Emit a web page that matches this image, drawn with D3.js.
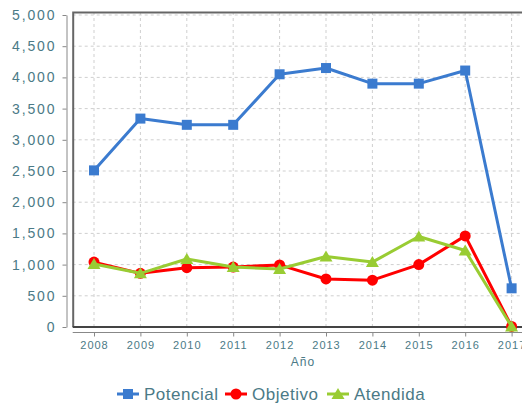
<!DOCTYPE html>
<html>
<head>
<meta charset="utf-8">
<script src="https://cdn.jsdelivr.net/npm/d3@7"></script>
<style>
  body { margin: 0; background: #fff; overflow: hidden; }
  svg { display: block; font-family: "Liberation Sans", Arial, sans-serif; }
</style>
</head>
<body>
<div id="chart"></div>
<script>
// data
var years = ["2008", "2009", "2010", "2011", "2012", "2013", "2014", "2015", "2016", "2017"];
var potencial = [2510, 3340, 3240, 3240, 4050, 4150, 3900, 3900, 4110, 620];
var objetivo = [1040, 860, 950, 960, 995, 770, 750, 1000, 1460, 10];
var atendida = [1010, 860, 1090, 960, 930, 1130, 1040, 1450, 1225, 10];
var yTicks = [0, 500, 1000, 1500, 2000, 2500, 3000, 3500, 4000, 4500, 5000];

var series = [
    {name: "Potencial", values: potencial, color: "#3b7bcf", shape: "square"},
    {name: "Objetivo", values: objetivo, color: "#ff0000", shape: "circle"},
    {name: "Atendida", values: atendida, color: "#99cc33", shape: "triangle"}
];

var width = 522, height = 404;
var textColor = "#4b7a86";
var plot = {left: 72.7, top: 12, bottom: 327};

var svg = d3.select("#chart").append("svg")
    .attr("width", width)
    .attr("height", height);

// point positions: 2008 at ~94, step ~46.4
var x = d3.scalePoint().domain(years).range([70.8, 534.8]).padding(0.5);
var y = d3.scaleLinear().domain([0, 5000]).range([plot.bottom, 15]);

// dashed grid
var grid = svg.append("g");
grid.selectAll(".hgrid").data(yTicks.slice(1)).enter().append("line")
    .attr("x1", plot.left).attr("x2", width)
    .attr("y1", function(d) { return y(d); }).attr("y2", function(d) { return y(d); })
    .attr("stroke", "#cfcfcf").attr("stroke-dasharray", "3,3");
grid.selectAll(".vgrid").data(years).enter().append("line")
    .attr("x1", function(d) { return x(d); }).attr("x2", function(d) { return x(d); })
    .attr("y1", plot.top).attr("y2", plot.bottom)
    .attr("stroke", "#cfcfcf").attr("stroke-dasharray", "3,3");

// frame
svg.append("path")
    .attr("d", "M" + width + "," + (plot.top + 0.5) + "H" + (plot.left + 0.5) + "V" + plot.bottom)
    .attr("fill", "none").attr("stroke", "#666").attr("stroke-width", 2);
svg.append("line")
    .attr("x1", plot.left).attr("x2", width)
    .attr("y1", plot.bottom).attr("y2", plot.bottom)
    .attr("stroke", "#444").attr("stroke-width", 2);

// y axis, offset to the left
var yAxis = svg.append("g")
    .attr("transform", "translate(66.5,0)")
    .call(d3.axisLeft(y).tickValues(yTicks).tickSize(4).tickSizeOuter(0).tickPadding(6)
        .tickFormat(d3.format(",")));
yAxis.selectAll("line, path").attr("stroke", "#888");
yAxis.selectAll("text").attr("fill", textColor)
    .style("font-size", "14px").style("letter-spacing", "1.9px");

// x axis, offset below
var xAxis = svg.append("g")
    .attr("transform", "translate(0,332.5)")
    .call(d3.axisBottom(x).tickSize(4).tickSizeOuter(0).tickPadding(5));
xAxis.select(".domain").attr("d", "M" + plot.left + ",0H" + width);
xAxis.selectAll("line, path").attr("stroke", "#888");
xAxis.selectAll("text").attr("fill", textColor)
    .style("font-size", "11px").style("letter-spacing", "1px");

svg.append("text")
    .attr("x", 303).attr("y", 366)
    .attr("text-anchor", "middle")
    .attr("fill", textColor)
    .style("font-size", "12px").style("letter-spacing", "1px")
    .text("Año");

var line = d3.line()
    .x(function(d, i) { return x(years[i]); })
    .y(function(d) { return y(d); });

function marker(sel, shape, color) {
    if (shape === "square") {
        sel.append("rect").attr("x", -5).attr("y", -5).attr("width", 10).attr("height", 10).attr("fill", color);
    } else if (shape === "circle") {
        sel.append("circle").attr("r", 5.5).attr("fill", color);
    } else {
        sel.append("path").attr("d", "M0,-6L6.5,5L-6.5,5Z").attr("fill", color);
    }
}

series.forEach(function(s) {
    svg.append("path")
        .datum(s.values)
        .attr("d", line)
        .attr("fill", "none")
        .attr("stroke", s.color)
        .attr("stroke-width", 3)
        .attr("stroke-linejoin", "round");
    svg.selectAll(".pt-" + s.shape)
        .data(s.values).enter()
        .append("g")
        .attr("transform", function(d, i) { return "translate(" + x(years[i]) + "," + y(d) + ")"; })
        .each(function() { marker(d3.select(this), s.shape, s.color); });
});

// legend
var legendX = [117, 225, 327];
series.forEach(function(s, i) {
    var g = svg.append("g").attr("transform", "translate(" + legendX[i] + ",394)");
    g.append("line").attr("x1", 0).attr("x2", 22).attr("y1", 0).attr("y2", 0)
        .attr("stroke", s.color).attr("stroke-width", 3);
    var m = g.append("g").attr("transform", "translate(11,0)");
    marker(m, s.shape, s.color);
    g.append("text").attr("x", 27).attr("y", 6)
        .attr("fill", textColor)
        .style("font-size", "17px").style("letter-spacing", "0.5px")
        .text(s.name);
});
</script>
</body>
</html>
